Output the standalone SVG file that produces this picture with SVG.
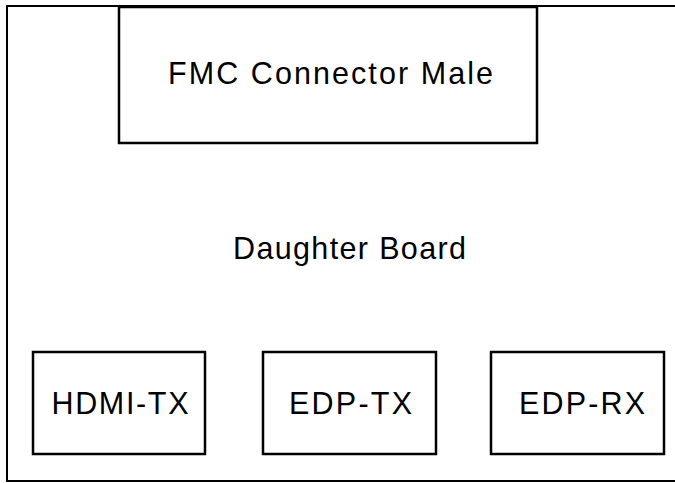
<svg xmlns="http://www.w3.org/2000/svg" width="675" height="483" viewBox="0 0 675 483">
<style>
.box{fill:#fff;stroke:#000;stroke-width:2.5}
.outer{fill:#fff;stroke:#000;stroke-width:2}
.lbl{font-family:"Liberation Sans",Arial,sans-serif;font-size:30.5px;fill:#000;text-anchor:middle}
</style>
<rect width="675" height="483" fill="#fff"/>
<g id="daughter-board">
<rect class="outer" x="7" y="6" width="700" height="475"/>
<text class="lbl" x="349.5" y="259" textLength="233" lengthAdjust="spacing">Daughter Board</text>
</g>
<g id="fmc-connector">
<rect class="box" x="119" y="7" width="418" height="136"/>
<text class="lbl" x="330.5" y="84" textLength="325" lengthAdjust="spacing">FMC Connector Male</text>
</g>
<g id="hdmi-tx">
<rect class="box" x="33" y="352" width="172" height="102"/>
<text class="lbl" x="120" y="414" textLength="137" lengthAdjust="spacing">HDMI-TX</text>
</g>
<g id="edp-tx">
<rect class="box" x="263" y="352" width="173" height="102"/>
<text class="lbl" x="350.5" y="414" textLength="123" lengthAdjust="spacing">EDP-TX</text>
</g>
<g id="edp-rx">
<rect class="box" x="491" y="352" width="173" height="102"/>
<text class="lbl" x="582" y="414" textLength="126" lengthAdjust="spacing">EDP-RX</text>
</g>
<g id="connectors"></g>
</svg>
